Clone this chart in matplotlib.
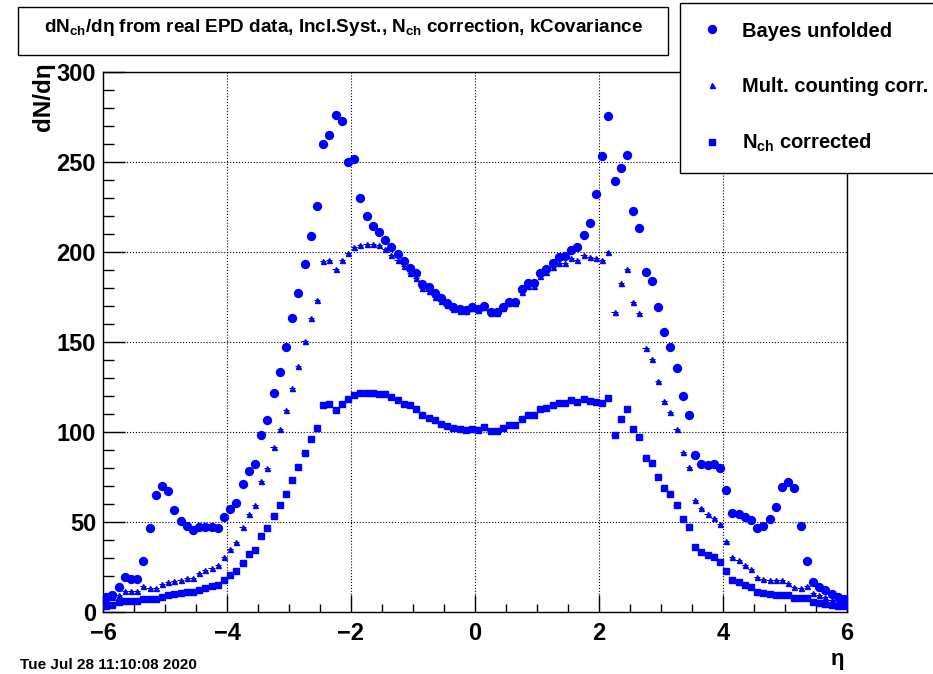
import matplotlib
matplotlib.use("Agg")
import matplotlib.pyplot as plt
from matplotlib.patches import Rectangle
import numpy as np

plt.rcParams['font.family'] = ['Liberation Sans', 'DejaVu Sans']
plt.rcParams['font.weight'] = 'bold'
plt.rcParams['mathtext.fontset'] = 'custom'
plt.rcParams['mathtext.rm'] = 'Liberation Sans:bold'
plt.rcParams['mathtext.bf'] = 'Liberation Sans:bold'
plt.rcParams['mathtext.it'] = 'Liberation Sans:bold:italic'
plt.rcParams['axes.unicode_minus'] = True

# histogram binning: 120 bins in eta from -6 to 6
nbins, eta_lo, eta_hi = 120, -6.0, 6.0
edges = np.linspace(eta_lo, eta_hi, nbins + 1)
eta = 0.5 * (edges[:-1] + edges[1:])
half_width = 0.5 * (edges[1] - edges[0])

bayes_unfolded = [
    8.1, 9.5, 14.0, 19.6, 18.1, 18.1, 28.3, 46.9, 65.2, 69.9,
    67.3, 56.5, 50.4, 48.0, 45.8, 47.4, 47.0, 47.4, 46.5, 52.6,
    57.4, 60.6, 71.0, 78.4, 82.0, 98.1, 106.8, 121.6, 133.6, 147.3,
    163.6, 177.3, 193.4, 209.1, 225.8, 260.2, 265.2, 275.9, 272.8, 250.0,
    251.7, 229.8, 220.2, 214.7, 211.2, 206.5, 202.6, 198.9, 194.8, 191.1,
    188.1, 182.2, 180.7, 177.0, 174.4, 171.6, 169.2, 168.1, 167.7, 169.2,
    168.5, 170.0, 166.6, 166.6, 169.6, 172.5, 172.5, 179.2, 182.6, 182.6,
    188.1, 190.7, 193.8, 197.1, 197.6, 201.0, 203.0, 209.7, 216.1, 232.2,
    253.1, 275.5, 239.5, 246.5, 253.7, 222.8, 213.2, 188.8, 183.8, 169.5,
    155.5, 147.3, 135.7, 120.1, 109.4, 87.0, 82.5, 81.4, 82.5, 80.1,
    67.6, 55.2, 54.7, 53.0, 50.9, 46.5, 47.6, 51.5, 58.2, 69.3,
    72.5, 68.9, 47.6, 28.3, 16.4, 14.0, 12.2, 10.0, 8.1, 7.0,
]

mult_counting = [
    7.0, 8.1, 9.4, 11.8, 11.4, 11.4, 14.4, 13.3, 13.3, 15.5,
    16.4, 17.4, 17.7, 18.7, 19.0, 21.4, 23.3, 24.4, 26.1, 30.4,
    35.0, 38.7, 47.0, 54.5, 59.2, 72.6, 80.0, 91.6, 101.4, 112.0,
    124.6, 136.8, 150.5, 163.1, 173.6, 194.9, 195.4, 190.4, 195.6, 199.5,
    202.6, 203.8, 204.5, 204.5, 204.1, 201.5, 198.6, 195.6, 192.0, 188.5,
    185.5, 180.0, 178.5, 175.2, 172.8, 170.3, 168.3, 167.5, 167.2, 168.7,
    168.0, 169.4, 166.2, 166.2, 169.0, 171.5, 171.5, 177.7, 181.0, 181.0,
    186.5, 189.0, 191.5, 194.0, 194.0, 196.4, 195.8, 198.4, 197.5, 196.9,
    195.4, 200.0, 166.4, 182.7, 190.8, 172.5, 166.0, 146.6, 140.7, 128.5,
    117.4, 111.3, 101.6, 88.7, 80.4, 62.4, 57.6, 54.7, 52.1, 48.7,
    39.3, 30.8, 28.7, 26.1, 23.7, 19.4, 18.5, 17.9, 17.7, 17.6,
    16.1, 14.0, 13.5, 14.6, 10.3, 9.4, 8.3, 6.8, 6.2, 5.5,
]

nch_corrected = [
    3.5, 3.8, 5.3, 6.2, 6.2, 6.2, 7.5, 7.2, 7.2, 8.6,
    9.4, 9.9, 10.3, 10.9, 11.2, 12.4, 13.1, 14.2, 15.1, 17.9,
    20.7, 22.9, 27.2, 32.0, 34.7, 42.4, 46.9, 53.5, 59.5, 65.6,
    73.1, 80.4, 88.5, 96.1, 102.0, 114.8, 115.7, 112.5, 115.3, 118.3,
    120.5, 121.6, 121.8, 121.8, 121.2, 121.2, 119.4, 117.7, 115.8, 114.9,
    112.6, 109.3, 108.0, 106.5, 104.7, 103.4, 102.2, 101.5, 101.3, 101.7,
    101.3, 102.6, 100.6, 100.6, 102.2, 104.1, 104.1, 107.4, 109.3, 109.3,
    112.6, 113.4, 115.2, 116.1, 116.1, 117.7, 116.6, 118.3, 117.2, 116.8,
    116.3, 118.8, 98.5, 107.4, 112.7, 101.6, 97.4, 85.7, 82.8, 75.0,
    68.9, 65.4, 59.5, 51.9, 47.2, 36.1, 33.5, 31.8, 30.3, 27.9,
    22.9, 17.7, 16.8, 15.1, 13.7, 11.1, 10.5, 9.9, 9.6, 9.6,
    9.2, 7.7, 7.7, 7.7, 5.7, 4.9, 4.4, 3.8, 3.1, 3.1,
]

W, H = 933, 674
fig = plt.figure(figsize=(W / 100, H / 100), dpi=100)
ax = fig.add_axes([103 / W, 1 - 612 / H, 744 / W, 540 / H])

# x error bars (bin width) behind the markers
for vals in (nch_corrected, mult_counting, bayes_unfolded):
    ax.errorbar(eta, vals, xerr=half_width, fmt='none', ecolor='black',
                elinewidth=0.7, capsize=0, zorder=2)

ax.plot(eta, nch_corrected, 's', color='blue', ms=4.6, mec='blue', zorder=3,
        label=r'N$_{\rm ch}$ corrected')
ax.plot(eta, mult_counting, '^', color='blue', ms=3.6, mec='blue', zorder=3,
        label='Mult. counting corr.')
ax.plot(eta, bayes_unfolded, 'o', color='blue', ms=5.7, mec='blue', zorder=4,
        label='Bayes unfolded')

ax.set_xlim(-6, 6)
ax.set_ylim(0, 300)
ax.set_xticks(np.arange(-6, 7, 2))
ax.set_xticks(np.arange(-6, 6.01, 0.5), minor=True)
ax.set_yticks(np.arange(0, 301, 50))
ax.set_yticks(np.arange(0, 301, 10), minor=True)
ax.tick_params(axis='both', which='both', direction='in', top=False, right=False,
               labelsize=17, width=1.0, color='black')
ax.tick_params(axis='x', which='major', length=12, pad=7)
ax.tick_params(axis='x', which='minor', length=6)
ax.tick_params(axis='y', which='major', length=16, pad=5)
ax.tick_params(axis='y', which='minor', length=8)
for lab in ax.get_xticklabels() + ax.get_yticklabels():
    lab.set_fontweight('bold')
ax.grid(True, which='major', linestyle=':', color='black', linewidth=0.8)
for sp in ax.spines.values():
    sp.set_linewidth(1.0)
    sp.set_color('black')

fig.text(44 / W, 1 - 62 / H, 'dN/dη', rotation=90, ha='center', va='top',
         fontsize=17.5, fontweight='bold')
fig.text(838 / W, 1 - 660 / H, 'η', ha='center', va='center', fontsize=16)
fig.text(20 / W, 1 - 665 / H, 'Tue Jul 28 11:10:08 2020', ha='left', va='center',
         fontsize=11, fontweight='bold')

# title box
fig.add_artist(Rectangle((18 / W, 1 - 55 / H), 650 / W, 48 / H, transform=fig.transFigure,
                         facecolor='white', edgecolor='black', linewidth=1.0, zorder=5))
fig.text(343 / W, 1 - 27 / H,
         r'dN$_{\rm ch}$/dη from real EPD data, Incl.Syst., N$_{\rm ch}$ correction, kCovariance',
         ha='center', va='center', fontsize=13.6, fontweight='bold', zorder=6)

handles, labels = ax.get_legend_handles_labels()
order = [2, 1, 0]
leg = fig.legend([handles[i] for i in order], [labels[i] for i in order],
                 loc='upper left', bbox_to_anchor=(680 / W, 1 - 3 / H),
                 frameon=True, fancybox=False, edgecolor='black', framealpha=1,
                 fontsize=14.5, labelspacing=1.8, borderpad=0.92, handlelength=1.3,
                 handletextpad=0.85, borderaxespad=0, markerscale=1.0)
leg.get_frame().set_linewidth(1.0)
for t in leg.get_texts():
    t.set_fontweight('bold')

fig.savefig('out.png', dpi=100)
